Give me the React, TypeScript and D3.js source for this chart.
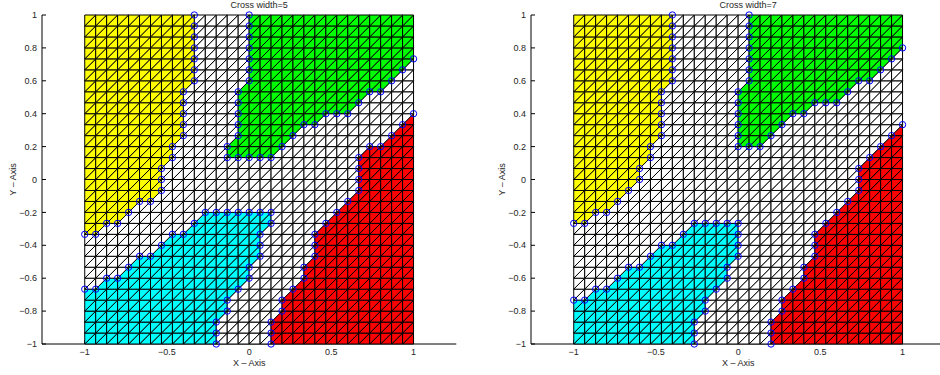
import * as d3 from 'd3'

// mesh: N x N cells on [-1,1]^2, each cell split along "/" diagonal
const N = 30

// interface nodes (grid indices i,j) where each coloured part meets the white cross
// panel "Cross width=5"
const yellowEdge5: [number, number][] = [
  [10, 30], [10, 29], [10, 28], [10, 27], [10, 26], [10, 25], [10, 24],
  [9, 23], [9, 22], [9, 21], [9, 20], [9, 19], [8, 18], [8, 17],
  [7, 16], [7, 15], [7, 14], [6, 13], [5, 13], [4, 12], [3, 11], [2, 11], [1, 10], [0, 10],
]
const greenEdge5: [number, number][] = [
  [15, 30], [15, 29], [15, 28], [15, 27], [15, 26], [15, 25], [15, 24],
  [14, 23], [14, 22], [14, 21], [14, 20], [14, 19], [13, 18], [13, 17],
  [14, 17], [15, 17], [16, 17], [17, 17], [18, 18], [19, 19], [20, 20], [21, 20],
  [22, 21], [23, 21], [24, 21], [25, 22], [26, 23], [27, 23], [28, 24], [29, 25], [30, 26],
]
const cyanEdge5: [number, number][] = [
  [0, 5], [1, 5], [2, 6], [3, 6], [4, 7], [5, 8], [6, 8], [7, 9], [8, 10], [9, 10],
  [10, 11], [11, 12], [12, 12], [13, 12], [14, 12], [15, 12], [16, 12], [17, 12],
  [17, 11], [16, 10], [16, 9], [16, 8], [15, 7], [15, 6], [14, 5], [13, 4], [13, 3],
  [12, 2], [12, 1], [12, 0],
]
const redEdge5: [number, number][] = [
  [30, 21], [29, 20], [28, 19], [27, 18], [26, 18], [25, 17], [25, 16], [25, 15], [25, 14],
  [24, 13], [23, 12], [22, 11], [21, 10], [21, 9], [21, 8], [20, 7], [20, 6], [19, 5],
  [18, 4], [18, 3], [17, 2], [17, 1], [17, 0],
]

// panel "Cross width=7"
const yellowEdge7: [number, number][] = [
  [9, 30], [9, 29], [9, 28], [9, 27], [9, 26], [9, 25], [9, 24],
  [8, 23], [8, 22], [8, 21], [8, 20], [8, 19], [7, 18], [7, 17],
  [6, 16], [6, 15], [5, 14], [4, 13], [3, 12], [2, 12], [1, 11], [0, 11],
]
const greenEdge7: [number, number][] = [
  [16, 30], [16, 29], [16, 28], [16, 27], [16, 26], [16, 25], [16, 24],
  [15, 23], [15, 22], [15, 21], [15, 20], [15, 19], [15, 18], [16, 18], [17, 18],
  [18, 19], [19, 20], [20, 21], [21, 21], [22, 22], [23, 22], [24, 22], [25, 23],
  [26, 24], [27, 24], [28, 25], [29, 26], [30, 27],
]
const cyanEdge7: [number, number][] = [
  [0, 4], [1, 4], [2, 5], [3, 5], [4, 6], [5, 7], [6, 7], [7, 8], [8, 9], [9, 9],
  [10, 10], [11, 11], [12, 11], [13, 11], [14, 11], [15, 11], [15, 10], [15, 9], [15, 8],
  [14, 7], [14, 6], [13, 5], [12, 4], [12, 3], [11, 2], [11, 1], [11, 0],
]
const redEdge7: [number, number][] = [
  [30, 20], [29, 19], [28, 18], [27, 17], [26, 16], [26, 15], [26, 14], [25, 13],
  [24, 12], [23, 11], [22, 10], [22, 9], [22, 8], [21, 7], [21, 6], [20, 5], [19, 4],
  [19, 3], [18, 2], [18, 1], [18, 0],
]

const titles = ['Cross width=5', 'Cross width=7']
const xTicks = [-1, -0.5, 0, 0.5, 1]
const yTicks = [1, 0.8, 0.6, 0.4, 0.2, 0, -0.2, -0.4, -0.6, -0.8, -1]

interface Region {
  color: string
  edge: [number, number][]
  corner: [number, number]
}

const panels: { title: string; regions: Region[] }[] = [
  {
    title: titles[0],
    regions: [
      { color: '#ffff00', edge: yellowEdge5, corner: [0, N] },
      { color: '#00ff00', edge: greenEdge5, corner: [N, N] },
      { color: '#00ffff', edge: cyanEdge5, corner: [0, 0] },
      { color: '#ff0000', edge: redEdge5, corner: [N, 0] },
    ],
  },
  {
    title: titles[1],
    regions: [
      { color: '#ffff00', edge: yellowEdge7, corner: [0, N] },
      { color: '#00ff00', edge: greenEdge7, corner: [N, N] },
      { color: '#00ffff', edge: cyanEdge7, corner: [0, 0] },
      { color: '#ff0000', edge: redEdge7, corner: [N, 0] },
    ],
  },
]

const fmt = (v: number) => (v === 0 ? '0' : String(+v.toFixed(1)).replace('-', '\u2212'))
const font = '"Liberation Sans", Arial, Helvetica, sans-serif'
const textColor = '#262626'

const Panel = ({ left, title, regions }: { left: number; title: string; regions: Region[] }) => {
  const unit = 164.4
  const lim = 1.26
  const x = d3.scaleLinear().domain([-lim, lim]).range([left, left + 2 * lim * unit])
  const y = d3.scaleLinear().domain([-1, 1]).range([344, 15])
  const node = (k: number) => -1 + (2 * k) / N

  // triangles of the mesh, coloured by which region polygon holds the centroid
  const tris: { pts: [number, number][]; fill: string }[] = []
  const polys = regions.map((r) => [...r.edge, r.corner] as [number, number][])
  for (let i = 0; i < N; i++) {
    for (let j = 0; j < N; j++) {
      const lower: [number, number][] = [[i, j], [i + 1, j], [i + 1, j + 1]]
      const upper: [number, number][] = [[i, j], [i + 1, j + 1], [i, j + 1]]
      for (const t of [lower, upper]) {
        const c: [number, number] = [
          (t[0][0] + t[1][0] + t[2][0]) / 3,
          (t[0][1] + t[1][1] + t[2][1]) / 3,
        ]
        let fill = '#ffffff'
        polys.forEach((p, k) => {
          if (d3.polygonContains(p, c)) fill = regions[k].color
        })
        tris.push({ pts: t, fill })
      }
    }
  }

  const axisRight = x(lim)
  const cx = (x(-lim) + axisRight) / 2

  return (
    <g>
      {/* axes */}
      <line x1={x(-lim)} x2={x(-lim)} y1={y(1)} y2={y(-1)} stroke="#000" strokeWidth={1} />
      <line x1={x(-lim)} x2={axisRight} y1={y(-1)} y2={y(-1)} stroke="#000" strokeWidth={1} />
      {yTicks.map((v) => (
        <g key={'y' + v}>
          <line x1={x(-lim)} x2={x(-lim) + 4} y1={y(v)} y2={y(v)} stroke="#000" />
          <text x={x(-lim) - 5} y={y(v)} dy="0.35em" textAnchor="end" fontSize={9} fontFamily={font} fill={textColor}>
            {fmt(v)}
          </text>
        </g>
      ))}
      {xTicks.map((v) => (
        <g key={'x' + v}>
          <line x1={x(v)} x2={x(v)} y1={y(-1)} y2={y(-1) - 4} stroke="#000" />
          <text x={x(v)} y={355} textAnchor="middle" fontSize={9} fontFamily={font} fill={textColor}>
            {fmt(v)}
          </text>
        </g>
      ))}

      {/* mesh */}
      {tris.map((t, k) => (
        <polygon
          key={k}
          points={t.pts.map(([a, b]) => `${x(node(a))},${y(node(b))}`).join(' ')}
          fill={t.fill}
          stroke="#000"
          strokeWidth={1}
          strokeLinejoin="round"
        />
      ))}

      {/* interface nodes */}
      {regions.map((r, k) =>
        r.edge.map(([a, b], m) => (
          <circle key={k + '-' + m} cx={x(node(a))} cy={y(node(b))} r={3.2} fill="none" stroke="#0000ff" strokeWidth={1} />
        ))
      )}

      <text x={cx + 10} y={8} textAnchor="middle" fontSize={9} fontFamily={font} fill={textColor}>
        {title}
      </text>
      <text x={x(0)} y={366} textAnchor="middle" fontSize={9} fontFamily={font} fill={textColor}>
        X – Axis
      </text>
      <text
        transform={`translate(${x(-lim) - 29},${y(0)}) rotate(-90)`}
        textAnchor="middle"
        dy="0.35em"
        fontSize={9}
        fontFamily={font}
        fill={textColor}
      >
        Y – Axis
      </text>
    </g>
  )
}

export default function App() {
  return (
    <svg width={940} height={375} style={{ position: 'absolute', left: 0, top: 0, background: '#fff' }}>
      <rect width={940} height={375} fill="#fff" />
      {panels.map((p, k) => (
        <Panel key={k} left={k === 0 ? 42 : 531} title={p.title} regions={p.regions} />
      ))}
    </svg>
  )
}
